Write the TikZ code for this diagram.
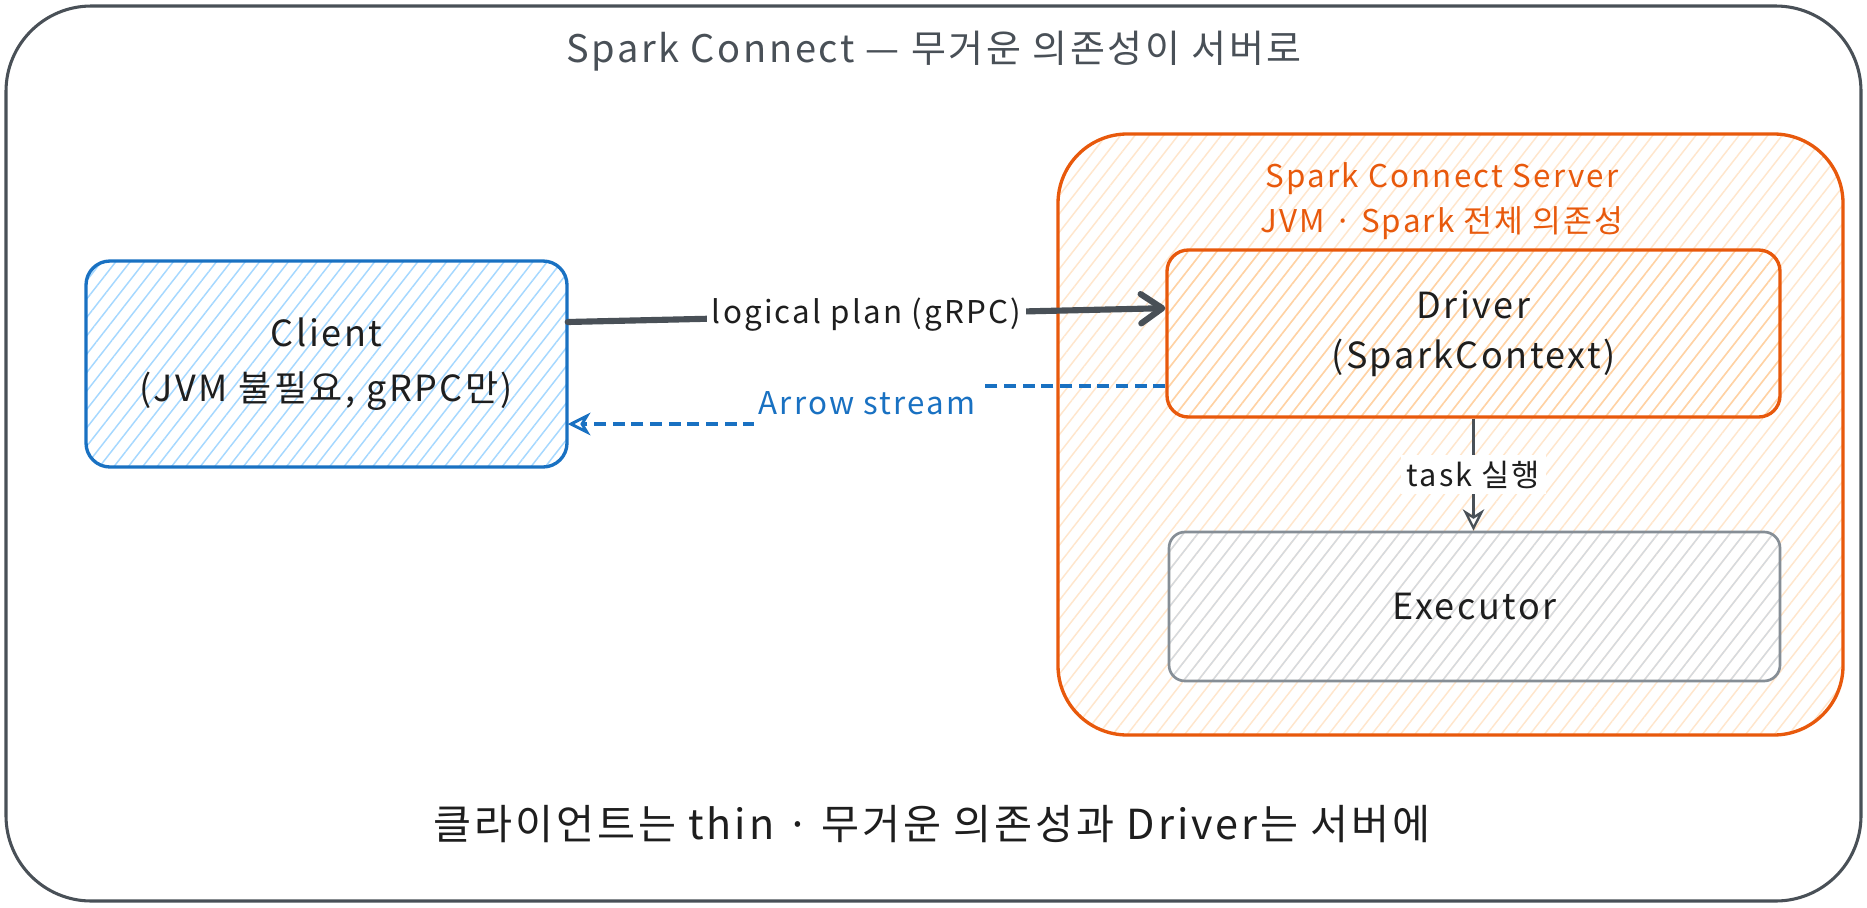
\documentclass[tikz,border=0pt]{standalone}
\usepackage{fontspec}
\setmainfont{Noto Sans CJK KR}[LetterSpace=7]
\usetikzlibrary{arrows.meta,patterns.meta}

\definecolor{ink}{HTML}{1E1E1E}
\definecolor{slate}{HTML}{495057}
\definecolor{clientblue}{HTML}{1971C2}
\definecolor{clienthatch}{HTML}{A5D8FF}
\definecolor{srvorange}{HTML}{E8590C}
\definecolor{srvhatch}{HTML}{FFE6CC}
\definecolor{drvhatch}{HTML}{FFD2A3}
\definecolor{exegray}{HTML}{868E96}
\definecolor{exehatch}{HTML}{D5DADF}

\tikzset{
  hatch/.style={pattern={Lines[angle=52,distance=8.5pt,line width=1.1pt]},pattern color=#1},
  boxtext/.style={font=\fontsize{27pt}{41pt}\selectfont,text=ink,align=center},
  clientbox/.style={draw=clientblue,line width=2.5pt,rounded corners=18pt,hatch=clienthatch,
    minimum width=360.75pt,minimum height=154.5pt,boxtext},
  serverbox/.style={draw=srvorange,line width=2.5pt,rounded corners=52pt,hatch=srvhatch,
    minimum width=588.75pt,minimum height=450.75pt},
  driverbox/.style={draw=srvorange,line width=2.5pt,rounded corners=16pt,hatch=drvhatch,
    minimum width=459.75pt,minimum height=125.25pt,boxtext,
    font=\fontsize{27pt}{37.5pt}\selectfont},
  execbox/.style={draw=exegray,line width=2pt,rounded corners=12pt,hatch=exehatch,
    minimum width=458.25pt,minimum height=111.75pt,boxtext},
  framebox/.style={draw=slate,line width=2.3pt,rounded corners=64pt,
    minimum width=1391.25pt,minimum height=671.25pt},
  edgelbl/.style={fill=white,inner sep=4pt,text=ink,font=\fontsize{23.5pt}{28pt}\selectfont},
  plan/.style={draw=slate,line width=4.6pt,line cap=round,
    -{Straight Barb[length=16pt,width=22pt,line cap=round,line join=round]}},
  stream/.style={draw=clientblue,line width=2.6pt,dash pattern=on 9pt off 5pt,
    -{Stealth[open,length=17pt,width=17pt,inset=5pt,line width=2.2pt]}},
  taskarrow/.style={draw=slate,line width=1.8pt,
    -{Stealth[open,length=16pt,width=16pt,inset=5pt,line width=1.8pt]}},
}

\begin{document}
\begin{tikzpicture}[x=0.75pt,y=-0.75pt]
\useasboundingbox (0,0) rectangle (1867,907);
\fill[white] (0,0) rectangle (1867,907);

% outer frame and headings
\node[framebox] (frame) at (933.5,453.5) {};
\node[text=slate,font=\fontsize{28.5pt}{34pt}\selectfont] (title) at (934,51)
  {Spark Connect — 무거운 의존성이 서버로};
\node[text=ink,font=\fontsize{31pt}{37pt}\selectfont] (note) at (932,824)
  {클라이언트는 thin · 무거운 의존성과 Driver는 서버에};

% client side
\node[clientbox] (client) at (326.5,364) {Client\\(JVM 불필요, gRPC만)};

% server side
\node[serverbox] (server) at (1450.5,434.5) {};
\node[text=srvorange,align=center,font=\fontsize{23.5pt}{33.75pt}\selectfont] (srvtitle)
  at (1442,201.5) {Spark Connect Server\\JVM · Spark 전체 의존성};
\node[driverbox] (driver) at (1473.5,333.5) {Driver\\(SparkContext)};
\node[execbox] (executor) at (1474.5,606.5) {Executor};

% request: logical plan over gRPC
\draw[plan] ([yshift=31.5pt]client.east) -- node[edgelbl] (planlbl) {logical plan (gRPC)}
  ([yshift=19pt]driver.west);

% response: Arrow stream back to the client; the label hides the step
\coordinate (bend) at (867,0);
\coordinate (s1) at ([yshift=-39.4pt]driver.west);
\coordinate (s2) at ([yshift=-45pt]client.east);
\draw[stream] (s1) -- (s1 -| bend) -- (s2 -| bend) -- (s2);
\node[edgelbl,text=clientblue,inner ysep=9pt,inner xsep=3pt] (streamlbl) at (867,403) {Arrow stream};

% driver schedules tasks on the executor
\draw[taskarrow] (driver.south) -- node[edgelbl,font=\fontsize{23pt}{27pt}\selectfont] (tasklbl)
  {task 실행} (driver.south |- executor.north);
\end{tikzpicture}
\end{document}
